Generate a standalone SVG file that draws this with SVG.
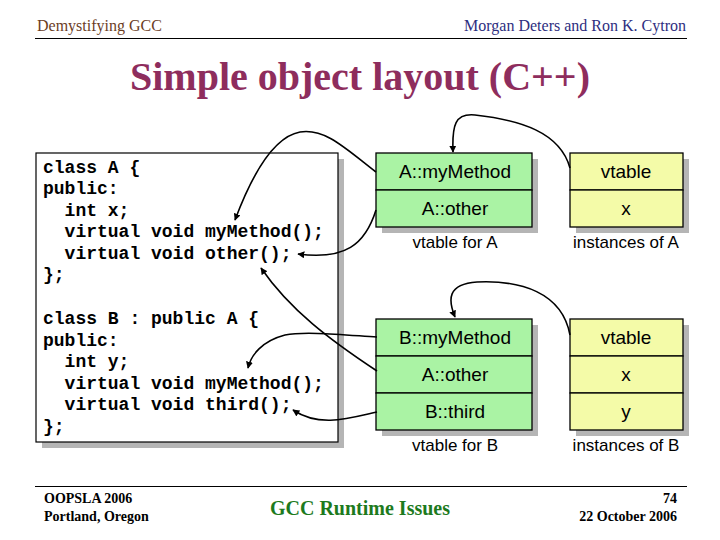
<svg xmlns="http://www.w3.org/2000/svg" width="720" height="540" viewBox="0 0 720 540">
<style>
.hdr{font-family:"Liberation Serif",serif;font-size:16px}
.title{font-family:"Liberation Serif",serif;font-size:40px;font-weight:bold;fill:#8e2d5d}
.code{font-family:"Liberation Mono",monospace;font-size:18px;font-weight:bold;fill:#000;white-space:pre}
.cell{font-family:"Liberation Sans",Arial,sans-serif;font-size:19px;fill:#000;text-anchor:middle}
.cap{font-family:"Liberation Sans",Arial,sans-serif;font-size:17px;fill:#000;text-anchor:middle}
.foot{font-family:"Liberation Serif",serif;font-size:14px;font-weight:bold;fill:#000}
.shadow{fill:#b5b5b5}
.green{fill:#aaf3a4;stroke:#000;stroke-width:1.3}
.yellow{fill:#f4fba8;stroke:#000;stroke-width:1.3}
.conn path{fill:none;stroke:#000;stroke-width:1.6;marker-end:url(#ah)}
</style>
<defs>
<marker id="ah" viewBox="0 0 10 10" refX="9" refY="5" markerWidth="7" markerHeight="7" markerUnits="userSpaceOnUse" orient="auto">
<path d="M0,0 L10,5 L0,10 z" fill="#000"/>
</marker>
</defs>
<rect width="720" height="540" fill="#fff"/>
<g id="header">
<text class="hdr" x="37" y="31" fill="#6b3d1f">Demystifying GCC</text>
<text class="hdr" x="686" y="31" fill="#2e2e80" text-anchor="end">Morgan Deters and Ron K. Cytron</text>
<line x1="35" y1="38.5" x2="687" y2="38.5" stroke="#000" stroke-width="1.2"/>
<text class="title" x="360" y="90" text-anchor="middle">Simple object layout (C++)</text>
</g>
<g id="code">
<rect class="shadow" x="42" y="159" width="302" height="289"/>
<rect x="36" y="153" width="302" height="289" fill="#fff" stroke="#000" stroke-width="1.2"/>
<text class="code" x="43" y="173">class A {</text>
<text class="code" x="43" y="194">public:</text>
<text class="code" x="43" y="216">  int x;</text>
<text class="code" x="43" y="237">  virtual void myMethod();</text>
<text class="code" x="43" y="259">  virtual void other();</text>
<text class="code" x="43" y="280">};</text>
<text class="code" x="43" y="324">class B : public A {</text>
<text class="code" x="43" y="346">public:</text>
<text class="code" x="43" y="367">  int y;</text>
<text class="code" x="43" y="389">  virtual void myMethod();</text>
<text class="code" x="43" y="410">  virtual void third();</text>
<text class="code" x="43" y="432">};</text>
</g>
<g id="vtableA">
<rect class="shadow" x="382" y="159" width="156" height="37"/>
<rect class="shadow" x="382" y="196" width="156" height="37"/>
<rect class="green" x="376" y="153" width="156" height="37"/>
<rect class="green" x="376" y="190" width="156" height="37"/>
<text class="cell" x="455" y="178">A::myMethod</text>
<text class="cell" x="455" y="215">A::other</text>
<text class="cap" x="455" y="248">vtable for A</text>
</g>
<g id="instA">
<rect class="shadow" x="576" y="159" width="113" height="37"/>
<rect class="shadow" x="576" y="196" width="113" height="37"/>
<rect class="yellow" x="570" y="153" width="113" height="37"/>
<rect class="yellow" x="570" y="190" width="113" height="37"/>
<text class="cell" x="626" y="178">vtable</text>
<text class="cell" x="626" y="215">x</text>
<text class="cap" x="626" y="248">instances of A</text>
</g>
<g id="vtableB">
<rect class="shadow" x="382" y="325" width="156" height="37"/>
<rect class="shadow" x="382" y="362" width="156" height="37"/>
<rect class="shadow" x="382" y="399" width="156" height="37"/>
<rect class="green" x="376" y="319" width="156" height="37"/>
<rect class="green" x="376" y="356" width="156" height="37"/>
<rect class="green" x="376" y="393" width="156" height="37"/>
<text class="cell" x="455" y="344">B::myMethod</text>
<text class="cell" x="455" y="381">A::other</text>
<text class="cell" x="455" y="418">B::third</text>
<text class="cap" x="455" y="451">vtable for B</text>
</g>
<g id="instB">
<rect class="shadow" x="576" y="325" width="113" height="37"/>
<rect class="shadow" x="576" y="362" width="113" height="37"/>
<rect class="shadow" x="576" y="399" width="113" height="37"/>
<rect class="yellow" x="570" y="319" width="113" height="37"/>
<rect class="yellow" x="570" y="356" width="113" height="37"/>
<rect class="yellow" x="570" y="393" width="113" height="37"/>
<text class="cell" x="626" y="344">vtable</text>
<text class="cell" x="626" y="381">x</text>
<text class="cell" x="626" y="418">y</text>
<text class="cap" x="626" y="451">instances of B</text>
</g>
<g id="connectors" class="conn">
<path d="M376,172 C345,148 325,128 300,132 C272,137 250,180 235,220"/>
<path d="M376,210 C365,245 345,260 298,254"/>
<path d="M377,371 C330,340 290,310 261,268"/>
<path d="M377,337 C345,335 305,331 285,335 C262,341 251,355 248,368"/>
<path d="M377,412 C350,418 320,428 293,410"/>
<path d="M570,168 C560,132 520,120 475,115 C455,113 452,125 453,152"/>
<path d="M570,335 C562,292 520,280 477,282 C447,284 448,300 455,317"/>
</g>
<g id="footer">
<line x1="35" y1="486.5" x2="687" y2="486.5" stroke="#000" stroke-width="1.2"/>
<text class="foot" x="44" y="503">OOPSLA 2006</text>
<text class="foot" x="44" y="521">Portland, Oregon</text>
<text x="360" y="515" text-anchor="middle" font-family="Liberation Serif,serif" font-size="20" font-weight="bold" fill="#1d7a1d">GCC Runtime Issues</text>
<text class="foot" x="677" y="503" text-anchor="end">74</text>
<text class="foot" x="677" y="521" text-anchor="end">22 October 2006</text>
</g>
</svg>
